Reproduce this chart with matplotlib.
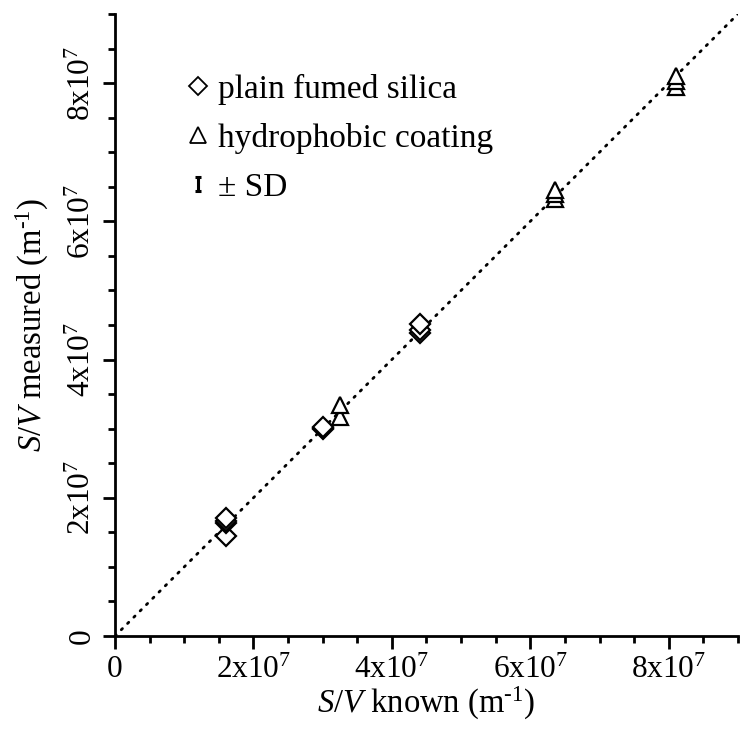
import matplotlib
matplotlib.use("Agg")
import matplotlib.pyplot as plt
from matplotlib.lines import Line2D
from matplotlib.path import Path
from matplotlib.ticker import MultipleLocator
import numpy as np

plt.rcParams['font.family'] = ['Liberation Serif', 'DejaVu Serif']
plt.rcParams['mathtext.fontset'] = 'custom'
plt.rcParams['mathtext.rm'] = 'Liberation Serif'
plt.rcParams['mathtext.it'] = 'Liberation Serif:italic'

# Data (units of m^-1)
plain_x = [1.61e7, 1.61e7, 1.61e7, 1.61e7, 3.01e7, 3.01e7, 3.01e7, 4.40e7, 4.40e7, 4.40e7]
plain_y = [1.45e7, 1.63e7, 1.67e7, 1.71e7, 2.99e7, 3.01e7, 3.03e7, 4.38e7, 4.43e7, 4.52e7]
plain_sd = [0.03e7] * 10

hydro_x = [3.25e7, 3.25e7, 6.35e7, 6.35e7, 6.35e7, 8.10e7, 8.10e7, 8.10e7]
hydro_y = [3.17e7, 3.34e7, 6.33e7, 6.40e7, 6.45e7, 7.95e7, 8.03e7, 8.10e7]
hydro_sd = [0.03e7] * 8

xticks = [0, 2e7, 4e7, 6e7, 8e7]
xticklabels = ['0', '2x10$^7$', '4x10$^7$', '6x10$^7$', '8x10$^7$']
yticks = [0, 2e7, 4e7, 6e7, 8e7]
yticklabels = ['0', '2x10$^7$', '4x10$^7$', '6x10$^7$', '8x10$^7$']
lim = 9e7

fig = plt.figure(figsize=(7.53, 7.37), dpi=100)
ax = fig.add_axes([0.1527, 0.137, 0.980 - 0.1527, 0.981 - 0.137])

ax.plot([0, lim], [0, lim], linestyle=(0, (0.6, 2.6)), color='black', lw=2.0,
        dash_capstyle='round', zorder=1)

ax.errorbar(plain_x, plain_y, yerr=plain_sd, fmt='D', ms=10, mfc='white', mec='black',
            mew=1.6, ecolor='black', elinewidth=1.2, capsize=2, zorder=3)
ax.errorbar(hydro_x, hydro_y, yerr=hydro_sd, fmt='^', ms=12, mfc='white', mec='black',
            mew=1.6, ecolor='black', elinewidth=1.2, capsize=2, zorder=3)

ax.set_xlim(0, lim)
ax.set_ylim(0, lim)
ax.set_xticks(xticks)
ax.set_xticklabels(xticklabels, fontsize=22.5)
ax.set_yticks(yticks)
ax.set_yticklabels(yticklabels, fontsize=22.5, rotation=90, va='center')
ax.xaxis.set_minor_locator(MultipleLocator(0.5e7))
ax.yaxis.set_minor_locator(MultipleLocator(0.5e7))
ax.tick_params(which='major', direction='out', length=9, width=2)
ax.tick_params(which='minor', direction='out', length=5, width=2)
ax.tick_params(axis='x', pad=5)
ax.tick_params(axis='y', pad=4)
for s in ['top', 'right']:
    ax.spines[s].set_visible(False)
for s in ['left', 'bottom']:
    ax.spines[s].set_linewidth(2)

ax.set_xlabel('$S/V$ known (m$^{\u2010 1}$)', fontsize=23.5, labelpad=0)
ax.set_ylabel('$S/V$ measured (m$^{\u2010 1}$)', fontsize=23.5, labelpad=12)

# Legend
sd_path = Path([(-0.5, 1), (0.5, 1), (0, 1), (0, -1), (-0.5, -1), (0.5, -1)],
               [Path.MOVETO, Path.LINETO, Path.MOVETO, Path.LINETO, Path.MOVETO, Path.LINETO])
h1 = Line2D([], [], marker='D', ls='none', ms=9, mfc='white', mec='black', mew=1.3)
h2 = Line2D([], [], marker='^', ls='none', ms=11, mfc='white', mec='black', mew=1.3)
h3 = Line2D([], [], marker=sd_path, ls='none', ms=10, mfc='none', mec='black', mew=2.2)
leg = ax.legend([h1, h2, h3], ['plain fumed silica', 'hydrophobic coating', '± SD'],
                loc='upper left', bbox_to_anchor=(0.0965, 0.925), frameon=False, fontsize=24,
                handlelength=0.6, handletextpad=0.3, labelspacing=0.54, borderaxespad=0)

fig.savefig('out.png', dpi=100)
